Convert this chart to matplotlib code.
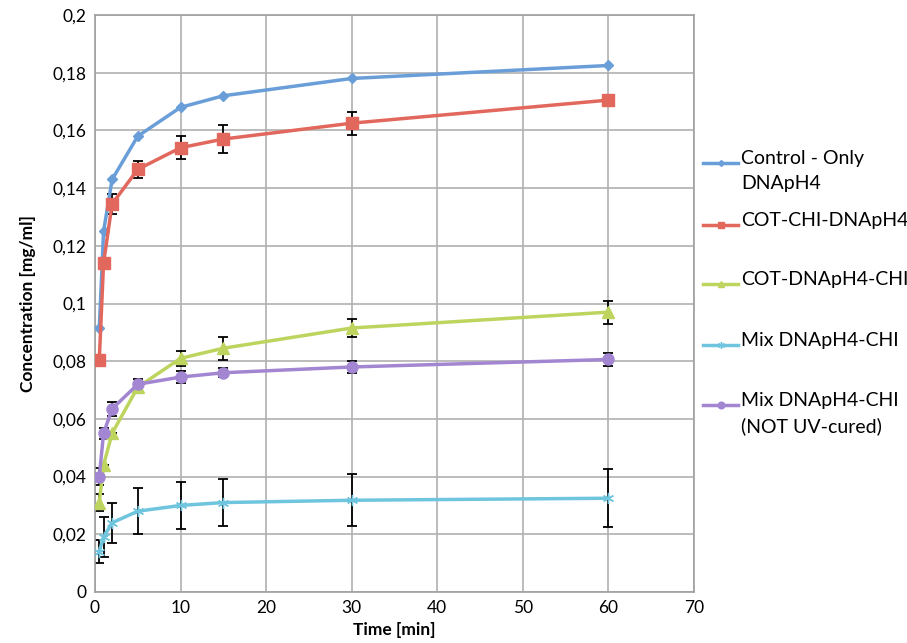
import matplotlib.pyplot as plt
from matplotlib.lines import Line2D
from matplotlib.ticker import FuncFormatter, MultipleLocator

plt.rcParams["font.family"] = ["Lato", "DejaVu Sans"]

time = [0.5, 1, 2, 5, 10, 15, 30, 60]

control = [0.0915, 0.125, 0.143, 0.158, 0.168, 0.172, 0.178, 0.1825]
cot_chi = [0.0805, 0.114, 0.1345, 0.1465, 0.154, 0.157, 0.1625, 0.1705]
cot_chi_err = [0.0, 0.0, 0.0035, 0.003, 0.004, 0.005, 0.004, 0.0]
cot_dna = [0.031, 0.044, 0.055, 0.071, 0.081, 0.0845, 0.0915, 0.097]
cot_dna_err = [0.003, 0.0, 0.0, 0.0, 0.0025, 0.004, 0.003, 0.004]
mix = [0.014, 0.019, 0.024, 0.028, 0.030, 0.031, 0.0318, 0.0325]
mix_err = [0.004, 0.007, 0.007, 0.008, 0.008, 0.008, 0.009, 0.010]
mix_nuv = [0.040, 0.055, 0.0635, 0.072, 0.0745, 0.076, 0.078, 0.0806]
mix_nuv_err = [0.003, 0.002, 0.0025, 0.002, 0.002, 0.0015, 0.002, 0.0023]

labels = ["Control - Only\nDNApH4", "COT-CHI-DNApH4", "COT-DNApH4-CHI",
          "Mix DNApH4-CHI", "Mix DNApH4-CHI\n(NOT UV-cured)"]

W, H = 907, 643
fig = plt.figure(figsize=(W / 100, H / 100), dpi=100)
ax = fig.add_axes([95 / W, 1 - 592 / H, 599 / W, 577 / H])

series = [
    (control, None, "#6A9ED8", "D", 5),
    (cot_chi, cot_chi_err, "#E2685D", "s", 8),
    (cot_dna, cot_dna_err, "#BDD55E", "^", 8),
    (mix, mix_err, "#6FC5DE", (6, 2, 0), 8),
    (mix_nuv, mix_nuv_err, "#A386D2", "o", 8),
]

for vals, err, col, mk, ms in series:
    if err is not None:
        ax.errorbar(time, vals, yerr=err, fmt="none", ecolor="black",
                    elinewidth=1.3, capsize=3.5, capthick=1.3, zorder=2)
    ax.plot(time, vals, color=col, lw=2.5, marker=mk, ms=ms,
            mec=col, mfc=col, zorder=3)

ax.set_xlim(0, 70)
ax.set_ylim(0, 0.2)
ax.xaxis.set_major_locator(MultipleLocator(10))
ax.yaxis.set_major_locator(MultipleLocator(0.02))
ax.yaxis.set_major_formatter(FuncFormatter(
    lambda v, p: "0" if abs(v) < 1e-9 else f"{v:.2f}".rstrip("0").replace(".", ",")))
ax.grid(True, color="#B0B0B0", lw=1.2)
ax.set_axisbelow(True)
for s in ax.spines.values():
    s.set_color("#A0A0A0")
    s.set_linewidth(1.2)
ax.tick_params(length=0, labelsize=12.5, pad=6)
ax.set_xlabel("Time [min]", fontsize=12.5, fontweight="bold", labelpad=4)
ax.set_ylabel("Concentration [mg/ml]", fontsize=12.5, fontweight="bold", labelpad=12)

# legend drawn by hand so the key sits beside the first text line
leg_y = [163, 225, 284, 345, 405]
for (vals, err, col, mk, ms), lab, yp in zip(series, labels, leg_y):
    yf = 1 - yp / H
    fig.add_artist(Line2D([703 / W, 738 / W], [yf, yf], color=col, lw=2.5,
                          transform=fig.transFigure))
    fig.add_artist(Line2D([720.5 / W], [yf], color=col, marker=mk, ms=ms * 0.6,
                          mec=col, mfc=col, transform=fig.transFigure))
    fig.text(741 / W, yf + 13 / H, lab, fontsize=14, va="top", ha="left",
             linespacing=1.55)

fig.savefig("out.png", dpi=100)
